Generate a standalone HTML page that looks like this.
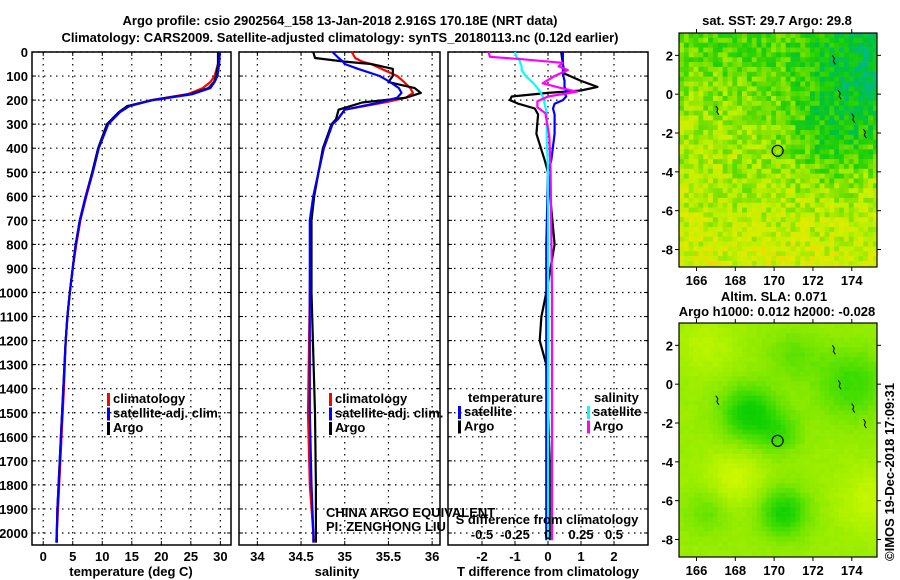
<!DOCTYPE html>
<html><head><meta charset="utf-8"><style>
html,body{margin:0;padding:0;background:#fff}
svg{display:block}
text{font-family:"Liberation Sans",Arial,sans-serif;font-weight:bold;font-size:13px;fill:#000}
</style></head><body>
<svg id="chart" width="900" height="580" viewBox="0 0 900 580">
<text x="340" y="25" text-anchor="middle" font-size="14">Argo profile: csio 2902564_158 13-Jan-2018 2.916S 170.18E (NRT data)</text>
<text x="340" y="42" text-anchor="middle" font-size="14">Climatology: CARS2009. Satellite-adjusted climatology: synTS_20180113.nc (0.12d earlier)</text>
<g id="maps"></g>
<g id="panels"></g>
</svg>
<script>
// ---- data (depth in m) ----
const tDepth = [0,50,100,125,150,175,200,225,250,300,400,500,600,700,800,900,1000,1100,1200,1400,1600,1800,1900,2000,2040];
const tArgo  = [29.6,29.6,29.3,28.9,28.0,25.0,18.5,14.2,12.8,10.8,9.3,8.3,7.2,6.2,5.5,5.0,4.5,4.1,3.8,3.4,3.0,2.6,2.4,2.3,2.3];
const tClim  = [29.7,29.6,29.0,28.3,27.0,24.5,18.3,14.6,13.0,11.0,9.4,8.4,7.3,6.3,5.6,5.0,4.5,4.1,3.8,3.5,3.1,2.7,2.5,2.3,2.2];
const tSat   = [29.9,29.8,29.5,29.0,28.3,25.3,18.6,14.6,13.0,11.0,9.4,8.4,7.2,6.2,5.5,5.0,4.5,4.1,3.8,3.4,3.0,2.6,2.4,2.3,2.3];
const sDepth = [0,25,40,50,70,100,125,150,170,190,210,240,280,300,400,500,600,700,1000,1500,1800,2000,2040];
const sArgo  = [34.64,34.66,35.0,35.3,35.55,35.55,35.5,35.8,35.87,35.7,35.2,34.93,34.9,34.85,34.75,34.7,34.65,34.62,34.62,34.66,34.67,34.67,34.67];
const sClim  = [35.08,35.12,35.2,35.3,35.42,35.6,35.68,35.75,35.78,35.7,35.45,35.0,34.92,34.86,34.76,34.7,34.64,34.61,34.6,34.58,34.6,34.64,34.65];
const sSat   = [34.86,34.93,34.98,35.0,35.15,35.4,35.52,35.62,35.65,35.6,35.4,35.0,34.92,34.86,34.76,34.7,34.64,34.6,34.6,34.6,34.62,34.64,34.64];
const dDepth  = [0,50,90,120,145,160,170,185,200,215,235,260,340,450,500,800,1000,1100,1200,1250,1300,1700,2030];
const dTArgo  = [0.4,0.45,0.5,1.0,1.5,1.0,0.0,-1.1,-1.15,-0.9,-0.4,-0.3,-0.35,-0.1,0.0,0.2,-0.05,-0.2,-0.25,-0.15,-0.05,0.05,0.05];
const dTSat   = [0.45,0.45,0.45,0.5,0.5,0.55,0.5,0.55,0.45,0.2,0.15,0.2,0.2,0.1,0.0,-0.05,-0.05,-0.05,-0.05,-0.05,-0.05,-0.05,-0.05];
const sdDepth = [0,20,30,45,60,75,100,130,150,165,185,205,230,255,350,500,1000,2030];
const dSArgo  = [-0.45,-0.44,-0.2,0.11,0.08,0.15,0.05,-0.04,0.1,0.22,0.0,-0.08,-0.08,-0.02,0.01,0.02,0.03,0.03];
const dSSat   = [-0.25,-0.24,-0.22,-0.21,-0.2,-0.2,-0.17,-0.11,-0.08,-0.06,-0.04,-0.03,-0.02,-0.01,-0.01,0.0,0.0,0.0];
const tTicks = [0,5,10,15,20,25,30];
const sTicks = [34,34.5,35,35.5,36];
const dTTicks = [-2,-1,0,1,2];
const dSTicks = [-0.5,-0.25,0,0.25,0.5];
const depthTicks = [0,100,200,300,400,500,600,700,800,900,1000,1100,1200,1300,1400,1500,1600,1700,1800,1900,2000];
const argoLon = 170.18, argoLat = -2.916;

const NS="http://www.w3.org/2000/svg";
function el(tag,attrs,parent,txt){const e=document.createElementNS(NS,tag);for(const k in attrs)e.setAttribute(k,attrs[k]);if(txt!==undefined)e.textContent=txt;parent.appendChild(e);return e;}
const panels=document.getElementById('panels');
const TOP=52,BOT=545;
const yD=d=>TOP+d*0.2405;

function panel(name,x0,x1,dmin,dmax,ticks,fmt,showY){
  const g=el('g',{},panels);
  
  
  const xs=v=>x0+(v-dmin)/(dmax-dmin)*(x1-x0);
  depthTicks.forEach(d=>{
    const l=el('line',{x1:x0,x2:x1,y1:yD(d),y2:yD(d),stroke:'#000','stroke-width':1.2,'stroke-dasharray':'1.5,4.5'},g);
    
    
    el('line',{x1:x0,x2:x0+4,y1:yD(d),y2:yD(d),stroke:'#000'},g);
    el('line',{x1:x1-4,x2:x1,y1:yD(d),y2:yD(d),stroke:'#000'},g);
    if(showY){const t=el('text',{x:28,y:yD(d)+5,'text-anchor':'end'},g,String(d));
      
      }
  });
  ticks.forEach(v=>{
    const l=el('line',{x1:xs(v),x2:xs(v),y1:TOP,y2:BOT,stroke:'#000','stroke-width':1.2,'stroke-dasharray':'1.5,4.5'},g);
    
    
    el('line',{x1:xs(v),x2:xs(v),y1:BOT-4,y2:BOT,stroke:'#000'},g);
    el('line',{x1:xs(v),x2:xs(v),y1:TOP,y2:TOP+4,stroke:'#000'},g);
    if(fmt){const t=el('text',{x:xs(v),y:BOT+16,'text-anchor':'middle'},g,fmt(v));
      
      }
  });
  const r=el('rect',{x:x0,y:TOP,width:x1-x0,height:BOT-TOP,fill:'none',stroke:'#000','stroke-width':1.5},g);
  
  
  return {g,xs};
}
function line(p,vals,depths,color,name,scale){
  const pts=vals.map((v,i)=>p.xs(v*(scale||1)).toFixed(1)+','+yD(depths[i]).toFixed(1)).join(' ');
  const l=el('polyline',{points:pts,fill:'none',stroke:color,'stroke-width':2.2,'stroke-linejoin':'round'},p.g);
  
  
}
function legend(g,x,y,items){
  items.forEach((it,i)=>{
    if(it[1]) el('rect',{x:x,y:y+i*14.5-10,width:3,height:13,fill:it[1]},g);
    const t=el('text',{x:x+(it[1]?6:0),y:y+i*14.5},g,it[0]);
    
    
  });
}
// panel 1
const p1=panel('temperature-panel',32,231,-1.9,31.8,tTicks,v=>String(v),true);
line(p1,tClim,tDepth,'#f00','climatology-temperature-line');
line(p1,tArgo,tDepth,'#000','argo-temperature-line');
line(p1,tSat,tDepth,'#00f','satellite-temperature-line');
legend(p1.g,107,403,[['climatology','#f00'],['satellite-adj. clim.','#00f'],['Argo','#000']]);
el('text',{x:131,y:576,'text-anchor':'middle'},p1.g,'temperature (deg C)');
// panel 2
const p2=panel('salinity-panel',239,440,33.79,36.09,sTicks,v=>String(v),false);
line(p2,sClim,sDepth,'#f00','climatology-salinity-line');
line(p2,sArgo,sDepth,'#000','argo-salinity-line');
line(p2,sSat,sDepth,'#00f','satellite-salinity-line');
legend(p2.g,329,403,[['climatology','#f00'],['satellite-adj. clim.','#00f'],['Argo','#000']]);
el('text',{x:337,y:576,'text-anchor':'middle'},p2.g,'salinity');
el('text',{x:326,y:517,'font-weight':'normal','font-size':12},p2.g,'CHINA ARGO EQUIVALENT');
el('text',{x:326,y:531,'font-weight':'normal','font-size':12},p2.g,'PI: ZENGHONG LIU');
// panel 3
const p3=panel('difference-panel',448,648,-3.03,3.03,dTTicks,null,false);
dTTicks.forEach(v=>{const t=el('text',{x:p3.xs(v),y:BOT+16,'text-anchor':'middle'},p3.g,String(v));
  });
line(p3,dTArgo,dDepth,'#000','argo-temperature-diff-line');
line(p3,dTSat,dDepth,'#00f','satellite-temperature-diff-line');
line(p3,dSSat,sdDepth,'#0ff','satellite-salinity-diff-line',4);
line(p3,dSArgo,sdDepth,'#f0f','argo-salinity-diff-line',4);
legend(p3.g,468,402,[['temperature',null]]);
legend(p3.g,458,416,[['satellite','#00f'],['Argo','#000']]);
legend(p3.g,594,402,[['salinity',null]]);
legend(p3.g,587,416,[['satellite','#0ff'],['Argo','#f0f']]);
el('text',{x:547,y:524,'text-anchor':'middle'},p3.g,'S difference from climatology');
dSTicks.forEach(v=>{const t=el('text',{x:p3.xs(v*4),y:539,'text-anchor':'middle'},p3.g,String(v));
  });
el('text',{x:548,y:576,'text-anchor':'middle'},p3.g,'T difference from climatology');

// ---- maps ----
const maps=document.getElementById('maps');
const LON0=165.1,LON1=175.3,LAT0=-8.9,LAT1=3.15;
function hash(i,j){let h=(i*374761393+j*668265263)^0x5bd1e995;h=(h^(h>>>13))*1274126177;h=h^(h>>>16);return ((h>>>0)%1000)/1000;}
function lerpC(ramp,v){v=Math.max(0,Math.min(0.9999,v));const f=v*(ramp.length-1),i=Math.floor(f),t=f-i;const a=ramp[i],b=ramp[i+1];
  return 'rgb('+a.map((c,k)=>Math.round(c+(b[k]-c)*t)).join(',')+')';}
const ramp1=[[255,190,0],[225,235,0],[190,240,0],[120,225,0],[40,210,0],[0,195,50],[0,185,130],[0,200,210]];
const ramp2=[[215,250,0],[175,242,0],[130,232,0],[70,222,0],[20,210,0],[0,200,0]];
function gauss(x,y,cx,cy,s){return Math.exp(-((x-cx)**2+(y-cy)**2)/(2*s*s));}
function drawMap(name,x0,y0,x1,y1,field,ramp,cell){
  const g=el('g',{},maps);
  
  
  const xs=lon=>x0+(lon-LON0)/(LON1-LON0)*(x1-x0);
  const ys=lat=>y0+(LAT1-lat)/(LAT1-LAT0)*(y1-y0);
  const nx=Math.ceil((x1-x0)/cell),ny=Math.ceil((y1-y0)/cell);
  for(let i=0;i<nx;i++)for(let j=0;j<ny;j++){
    const px=x0+i*cell,py=y0+j*cell;
    const lon=LON0+(px+cell/2-x0)/(x1-x0)*(LON1-LON0),lat=LAT1-(py+cell/2-y0)/(y1-y0)*(LAT1-LAT0);
    el('rect',{x:px,y:py,width:Math.min(cell,x1-px)+0.3,height:Math.min(cell,y1-py)+0.3,fill:lerpC(ramp,field(lon,lat,i,j))},g);
  }
  // coast squiggles
  [[173,2],[173.3,0.2],[174,-1],[174.6,-1.8],[167,-0.6]].forEach(c=>{
    el('path',{d:'M'+xs(c[0])+','+ys(c[1])+' l2,3 l-1,3 l2,3',stroke:'#000','stroke-width':1,fill:'none'},g);});
  const c=el('circle',{cx:xs(argoLon),cy:ys(argoLat),r:5.5,fill:'none',stroke:'#000','stroke-width':1.2},g);
  
  
  el('rect',{x:x0,y:y0,width:x1-x0,height:y1-y0,fill:'none',stroke:'#000','stroke-width':1.2},g);
  [166,168,170,172,174].forEach(v=>{
    el('line',{x1:xs(v),x2:xs(v),y1:y1,y2:y1+4,stroke:'#000'},g);
    el('line',{x1:xs(v),x2:xs(v),y1:y0,y2:y0-4,stroke:'#000'},g);
    const t=el('text',{x:xs(v),y:y1+18,'text-anchor':'middle'},g,String(v));
    });
  [2,0,-2,-4,-6,-8].forEach(v=>{
    el('line',{x1:x0-4,x2:x0,y1:ys(v),y2:ys(v),stroke:'#000'},g);
    el('line',{x1:x1,x2:x1+4,y1:ys(v),y2:ys(v),stroke:'#000'},g);
    const t=el('text',{x:x0-6,y:ys(v)+5,'text-anchor':'end'},g,String(v));
    });
}
drawMap('sst-map',679,33,877,267,(lon,lat,i,j)=>{
  let v=0.22+0.2*(lat+9)/12+0.35*gauss(lon,lat,175,1.5,2.6)+0.2*gauss(lon,lat,173,-2.5,1.8)+0.08*gauss(lon,lat,168,2.5,2)+0.06*gauss(lon,lat,168.5,-5,1.2);
  return v+(hash(i,j)-0.5)*0.28;},ramp1,4.85);
drawMap('sla-map',679,323,877,557,(lon,lat,i,j)=>{
  let v=0.3+0.55*gauss(lon,lat,168.7,-1.5,1.0)+0.5*gauss(lon,lat,170.5,-6.6,0.9)+0.35*gauss(lon,lat,174,0,1.3)+0.3*gauss(lon,lat,170.3,-2.5,0.8)
    +0.2*gauss(lon,lat,171,1.5,1.0)+0.2*gauss(lon,lat,166.5,-6.6,0.8)-0.25*gauss(lon,lat,168,-4.8,1.0)-0.2*gauss(lon,lat,175,-6,1.2)-0.15*gauss(lon,lat,166.5,2,1);
  return v+(hash(i,j)-0.5)*0.05;},ramp2,4.85);
el('text',{x:777,y:25,'text-anchor':'middle'},maps,'sat. SST: 29.7 Argo: 29.8');
el('text',{x:774,y:301,'text-anchor':'middle'},maps,'Altim. SLA: 0.071');
el('text',{x:777,y:316,'text-anchor':'middle'},maps,'Argo h1000: 0.012 h2000: -0.028');
el('text',{x:0,y:0,transform:'translate(894,472) rotate(-90)','text-anchor':'middle','font-weight':'normal','font-size':13},maps,'©IMOS 19-Dec-2018 17:09:31');
</script>
</body></html>
